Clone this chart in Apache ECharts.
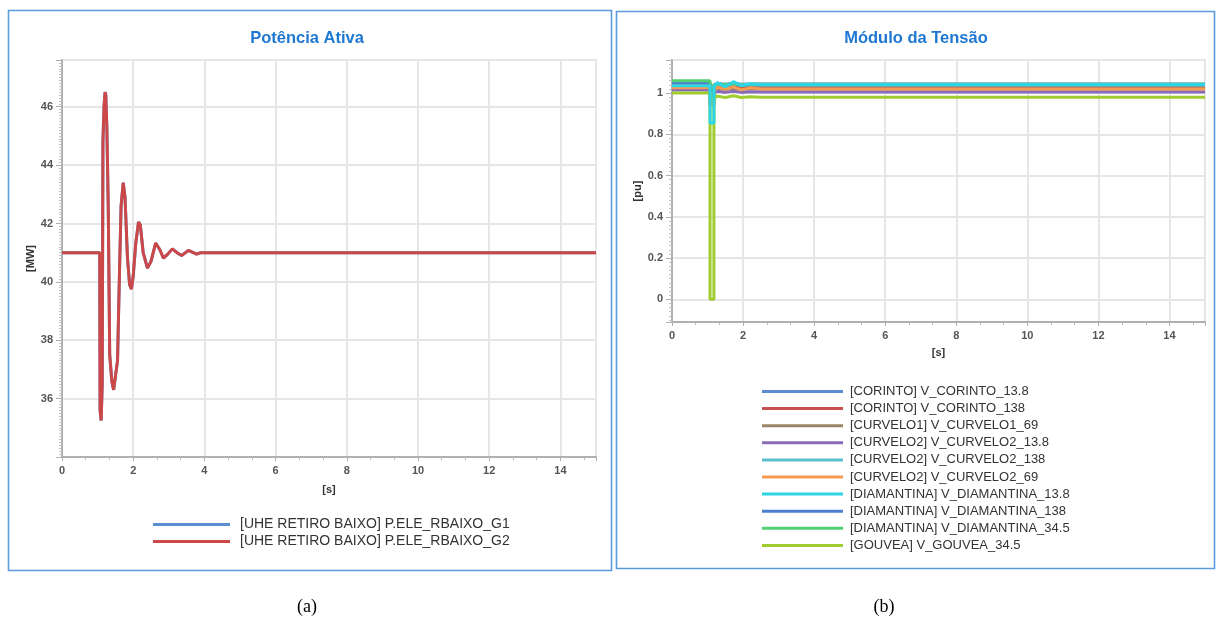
<!DOCTYPE html>
<html>
<head>
<meta charset="utf-8">
<script src="https://cdn.jsdelivr.net/npm/echarts@6/dist/echarts.min.js"></script>
<style>
html,body{margin:0;padding:0;background:#fff;}
#c{width:1221px;height:624px;}
</style>
</head>
<body>
<div id="c"></div>
<script>
// ---------- Data: (a) Potência Ativa ----------
const powerTitle = 'Potência Ativa';
const powerNames = ['[UHE RETIRO BAIXO] P.ELE_RBAIXO_G1', '[UHE RETIRO BAIXO] P.ELE_RBAIXO_G2'];
const powerTime = [0, 1.06, 1.07, 1.10, 1.13, 1.15, 1.18, 1.21, 1.23, 1.26, 1.30, 1.34, 1.40, 1.45, 1.50, 1.56, 1.62, 1.66, 1.72, 1.77, 1.84, 1.90, 1.95, 2.00, 2.07, 2.15, 2.20, 2.28, 2.40, 2.50, 2.63, 2.75, 2.85, 2.97, 3.10, 3.23, 3.36, 3.55, 3.78, 3.90, 15];
const powerG1 = [41, 41, 35.6, 35.25, 36.5, 44.8, 46.0, 46.5, 46.4, 45.3, 42.5, 37.5, 36.6, 36.3, 36.35, 37.3, 40.6, 42.6, 43.4, 42.9, 40.8, 39.9, 39.75, 40.2, 41.3, 42.05, 41.95, 41.0, 40.47, 40.7, 41.33, 41.1, 40.81, 40.95, 41.13, 41.0, 40.9, 41.08, 40.95, 41.0, 41];
const powerG2 = [41, 41, 35.6, 35.25, 36.5, 44.8, 46.0, 46.5, 46.4, 45.3, 42.5, 37.5, 36.6, 36.3, 36.35, 37.3, 40.6, 42.6, 43.4, 42.9, 40.8, 39.9, 39.75, 40.2, 41.3, 42.05, 41.95, 41.0, 40.47, 40.7, 41.33, 41.1, 40.81, 40.95, 41.13, 41.0, 40.9, 41.08, 40.95, 41.0, 41];

// ---------- Data: (b) Módulo da Tensão ----------
const voltTitle = 'Módulo da Tensão';
const voltTime = [0, 1.07, 1.07, 1.18, 1.18, 1.28, 1.50, 1.73, 1.95, 2.20, 2.50, 15];
const voltNames = ['[CORINTO] V_CORINTO_13.8', '[CORINTO] V_CORINTO_138', '[CURVELO1] V_CURVELO1_69', '[CURVELO2] V_CURVELO2_13.8', '[CURVELO2] V_CURVELO2_138', '[CURVELO2] V_CURVELO2_69', '[DIAMANTINA] V_DIAMANTINA_13.8', '[DIAMANTINA] V_DIAMANTINA_138', '[DIAMANTINA] V_DIAMANTINA_34.5', '[GOUVEA] V_GOUVEA_34.5'];
const vCorinto13_8  = [1.045, 1.045, 0.98, 0.98, 1.035, 1.04, 1.035, 1.04, 1.035, 1.036, 1.035, 1.035];
const vCorinto138   = [1.04, 1.04, 0.97, 0.97, 1.03, 1.035, 1.03, 1.035, 1.03, 1.031, 1.03, 1.03];
const vCurvelo1_69  = [1.03, 1.03, 0.95, 0.95, 1.015, 1.022, 1.017, 1.023, 1.017, 1.02, 1.019, 1.019];
const vCurvelo2_13_8 = [1.015, 1.015, 0.94, 0.94, 1.0, 1.008, 1.003, 1.009, 1.003, 1.006, 1.005, 1.005];
const vCurvelo2_138 = [1.05, 1.05, 0.96, 0.96, 1.035, 1.042, 1.037, 1.043, 1.037, 1.04, 1.039, 1.039];
const vCurvelo2_69  = [1.025, 1.025, 0.94, 0.94, 1.01, 1.03, 1.018, 1.03, 1.015, 1.025, 1.02, 1.02];
const vDiam13_8     = [1.035, 1.035, 0.855, 0.855, 1.03, 1.05, 1.03, 1.055, 1.035, 1.045, 1.04, 1.04];
const vDiam138      = [1.05, 1.05, 0.97, 0.97, 1.04, 1.046, 1.042, 1.047, 1.042, 1.044, 1.044, 1.044];
const vDiam34_5     = [1.06, 1.06, 0.97, 0.97, 1.04, 1.045, 1.04, 1.046, 1.04, 1.042, 1.042, 1.042];
const vGouvea34_5   = [1.0, 1.0, 0.0, 0.0, 0.975, 0.985, 0.978, 0.987, 0.978, 0.982, 0.98, 0.98];
const voltValues = [vCorinto13_8, vCorinto138, vCurvelo1_69, vCurvelo2_13_8, vCurvelo2_138, vCurvelo2_69, vDiam13_8, vDiam138, vDiam34_5, vGouvea34_5];

// ---------- Styles ----------
const powerColors = ['#5b8fd0', '#cc4848'];
const voltColors = ['#5b8bd0', '#c85050', '#9e8466', '#8a6bb8', '#5bbfd0', '#f59a50', '#2cd6e6', '#4f7fd0', '#50d070', '#a0cc30'];
const titleColor = '#1e78d2';
const borderColor = '#5b9be0';

function pairs(xs, ys) { return xs.map((x, i) => [x, ys[i]]); }

const chart = echarts.init(document.getElementById('c'), null, {renderer: 'canvas'});

const axisLabelStyle = {color: '#555', fontSize: 11, fontWeight: 'bold', fontFamily: 'Liberation Sans, Arial, sans-serif'};
const nameStyle = {color: '#333', fontSize: 11, fontWeight: 'bold', fontFamily: 'Liberation Sans, Arial, sans-serif'};

function xAxisCfg(gridIndex, gap) {
  return {
    type: 'value', gridIndex, min: 0, max: 15, interval: 2,
    name: '[s]', nameLocation: 'middle', nameGap: gap, nameTextStyle: nameStyle,
    axisLine: {show: true, onZero: false, lineStyle: {color: '#b0b0b0', width: 2}},
    axisTick: {show: true, length: 4, lineStyle: {color: '#b0b0b0'}},
    minorTick: {show: true, splitNumber: 3, length: 3, lineStyle: {color: '#b8b8b8'}},
    axisLabel: Object.assign({margin: 8, showMaxLabel: false}, axisLabelStyle),
    splitLine: {show: true, lineStyle: {color: '#e6e6e6', width: 2}}
  };
}

const series = [];
powerNames.forEach((n, i) => {
  series.push({
    name: n, type: 'line', xAxisIndex: 0, yAxisIndex: 0, showSymbol: false, symbol: 'none',
    data: pairs(powerTime, i === 0 ? powerG1 : powerG2),
    lineStyle: {width: 3, color: powerColors[i]}, itemStyle: {color: powerColors[i]},
    animation: false, z: 2 + i
  });
});
voltNames.forEach((n, i) => {
  series.push({
    name: n, type: 'line', xAxisIndex: 1, yAxisIndex: 1, showSymbol: false, symbol: 'none',
    data: pairs(voltTime, voltValues[i]),
    lineStyle: {width: 3, color: voltColors[i]}, itemStyle: {color: voltColors[i]},
    animation: false, z: i === 6 ? 20 : 2 + i
  });
});

const legendTextA = {color: '#333', fontSize: 14, fontFamily: 'Liberation Sans, Arial, sans-serif', lineHeight: 17, padding: [0, 0, 0, 5]};
const legendTextB = {color: '#333', fontSize: 13, fontFamily: 'Liberation Sans, Arial, sans-serif', lineHeight: 17, padding: [0, 0, 0, 2]};

chart.setOption({
  animation: false,
  backgroundColor: '#ffffff',
  grid: [
    {left: 62, top: 60, width: 534, height: 397, show: true, borderColor: '#cccccc', borderWidth: 1.5, backgroundColor: 'transparent'},
    {left: 672, top: 60, width: 533, height: 262, show: true, borderColor: '#cccccc', borderWidth: 1.5, backgroundColor: 'transparent'}
  ],
  xAxis: [xAxisCfg(0, 27), xAxisCfg(1, 25)],
  yAxis: [
    {
      type: 'value', gridIndex: 0, min: 34, max: 47.6, interval: 2,
      name: '[MW]', nameLocation: 'middle', nameGap: 26, nameTextStyle: nameStyle,
      axisLine: {show: true, onZero: false, lineStyle: {color: '#b0b0b0', width: 2}},
      axisTick: {show: true, length: 6, lineStyle: {color: '#b0b0b0'}},
      minorTick: {show: true, splitNumber: 20, length: 3, lineStyle: {color: '#c0c0c0'}},
      axisLabel: Object.assign({margin: 9, showMinLabel: false, showMaxLabel: false}, axisLabelStyle),
      splitLine: {show: true, lineStyle: {color: '#e6e6e6', width: 2}}
    },
    {
      type: 'value', gridIndex: 1, min: -0.11, max: 1.16, splitNumber: 6, minInterval: 0.2, maxInterval: 0.2,
      name: '[pu]', nameLocation: 'middle', nameGap: 29, nameTextStyle: nameStyle,
      axisLine: {show: true, onZero: false, lineStyle: {color: '#b0b0b0', width: 2}},
      axisTick: {show: true, length: 6, lineStyle: {color: '#b0b0b0'}},
      minorTick: {show: true, splitNumber: 10, length: 3, lineStyle: {color: '#c0c0c0'}},
      axisLabel: Object.assign({margin: 9, showMinLabel: false, showMaxLabel: false}, axisLabelStyle),
      splitLine: {show: true, lineStyle: {color: '#e6e6e6', width: 2}}
    }
  ],
  legend: [
    {
      data: powerNames, orient: 'vertical', left: 153, top: 516, padding: 0, itemGap: 0,
      icon: 'rect', itemWidth: 77, itemHeight: 3, textStyle: legendTextA, selectedMode: false
    },
    {
      data: voltNames, orient: 'vertical', left: 762, top: 383, padding: 0, itemGap: 0.1,
      icon: 'rect', itemWidth: 81, itemHeight: 3, textStyle: legendTextB, selectedMode: false
    }
  ],
  graphic: [
    {type: 'rect', shape: {x: 8.5, y: 10.5, width: 603, height: 560}, style: {fill: 'none', stroke: borderColor, lineWidth: 1.6}, silent: true},
    {type: 'rect', shape: {x: 616.5, y: 11.5, width: 598, height: 557}, style: {fill: 'none', stroke: borderColor, lineWidth: 1.6}, silent: true},
    {type: 'text', x: 307, y: 38, style: {text: powerTitle, align: 'center', verticalAlign: 'middle', fill: titleColor, font: 'bold 16.5px "Liberation Sans", Arial, sans-serif'}},
    {type: 'text', x: 916, y: 38, style: {text: voltTitle, align: 'center', verticalAlign: 'middle', fill: titleColor, font: 'bold 16.5px "Liberation Sans", Arial, sans-serif'}},
    {type: 'text', x: 307, y: 607, style: {text: '(a)', align: 'center', verticalAlign: 'middle', fill: '#000', font: '18px "Liberation Serif", "Times New Roman", serif'}},
    {type: 'text', x: 884, y: 607, style: {text: '(b)', align: 'center', verticalAlign: 'middle', fill: '#000', font: '18px "Liberation Serif", "Times New Roman", serif'}}
  ],
  series
});
</script>
</body>
</html>
